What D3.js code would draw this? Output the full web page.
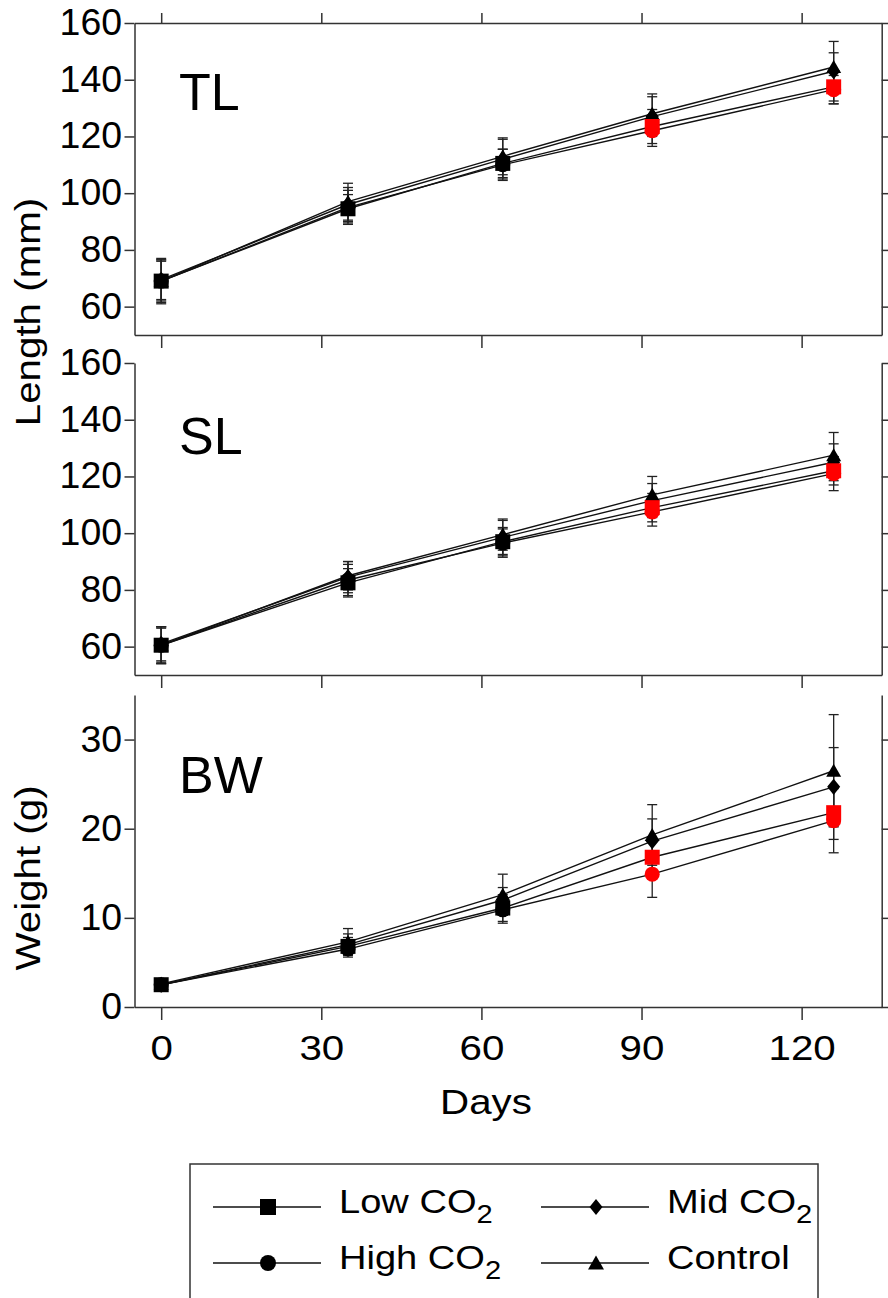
<!DOCTYPE html>
<html>
<head>
<meta charset="utf-8">
<script src="https://cdn.jsdelivr.net/npm/d3@7"></script>
<style>
body { margin: 0; background: #fff; }
svg { display: block; font-family: "Liberation Sans", Arial, sans-serif; }
</style>
</head>
<body>
<svg id="chart" width="888" height="1298"></svg>
<script>
// sampling days
const days = [0, 35, 64, 92, 126];
const dayTicks = [0, 30, 60, 90, 120];

// total length (mm)
const tlLow     = [69.0, 94.5, 110.5, 123.5, 137.5];
const tlHigh    = [69.0, 95.0, 110.0, 122.0, 136.5];
const tlMid     = [69.5, 96.0, 112.0, 127.0, 143.0];
const tlControl = [69.0, 97.0, 113.0, 128.0, 144.5];
const tlLowSd     = [7.0, 5.0, 5.0, 6.0, 6.0];
const tlHighSd    = [7.5, 6.0, 5.5, 5.5, 5.0];
const tlMidSd     = [7.0, 6.0, 7.0, 7.0, 10.5];
const tlControlSd = [8.0, 6.5, 6.5, 7.0, 5.0];

// standard length (mm)
const slLow     = [60.5, 82.5, 97.0, 109.0, 122.0];
const slHigh    = [60.5, 83.5, 96.5, 107.5, 121.0];
const slMid     = [61.0, 84.5, 98.5, 111.5, 125.0];
const slControl = [60.5, 85.0, 99.5, 113.5, 127.5];
const slLowSd     = [6.0, 5.0, 5.0, 5.0, 5.0];
const slHighSd    = [6.5, 5.5, 5.0, 5.0, 6.0];
const slMidSd     = [6.0, 5.5, 6.0, 6.0, 6.5];
const slControlSd = [6.5, 5.0, 5.5, 6.5, 8.0];

// body weight (g)
const bwLow     = [2.5, 6.8, 11.1, 16.8, 21.8];
const bwHigh    = [2.5, 6.5, 10.9, 14.9, 20.9];
const bwMid     = [2.5, 7.0, 12.0, 18.6, 24.7];
const bwControl = [2.6, 7.3, 12.6, 19.3, 26.5];
const bwLowSd     = [0.5, 1.0, 1.5, 2.0, 3.0];
const bwHighSd    = [0.5, 0.9, 1.5, 2.6, 3.6];
const bwMidSd     = [0.5, 1.2, 1.4, 2.5, 4.4];
const bwControlSd = [0.5, 1.5, 2.3, 3.4, 6.3];

// points that differ from control (drawn red)
const sigLow  = [false, false, false, true, true];
const sigHigh = [false, false, false, true, true];

const lengthTicks = [60, 80, 100, 120, 140, 160];
const weightTicks = [0, 10, 20, 30];

const svg = d3.select("#chart");
const axisColor = "#333";
const txtStretch = 1.12;

let x = d3.scaleLinear().domain([-5, 135]).range([134.5, 881.7]);

// marker shapes, size = width in px
const symSquare = { draw(c, s){ let h = s/2; c.moveTo(-h,-h); c.lineTo(h,-h); c.lineTo(h,h); c.lineTo(-h,h); c.closePath(); } };
const symCircle = { draw(c, s){ let r = s/2; c.moveTo(r,0); c.arc(0,0,r,0,2*Math.PI); } };
const symDiamond = { draw(c, s){ let w = s/2, h = s*0.62; c.moveTo(0,-h); c.lineTo(w,0); c.lineTo(0,h); c.lineTo(-w,0); c.closePath(); } };
const symTriangle = { draw(c, s){ let w = s/2; c.moveTo(0,-s*0.47); c.lineTo(w,s*0.4); c.lineTo(-w,s*0.4); c.closePath(); } };

// draw order: control, mid, high, low
function makeSeries(ctrl, ctrlSd, mid, midSd, high, highSd, low, lowSd){
    return [
        {name: "Control", mean: ctrl, sd: ctrlSd, shape: symTriangle, size: 15, sig: null},
        {name: "Mid", mean: mid, sd: midSd, shape: symDiamond, size: 13, sig: null},
        {name: "High", mean: high, sd: highSd, shape: symCircle, size: 15, sig: sigHigh},
        {name: "Low", mean: low, sd: lowSd, shape: symSquare, size: 15, sig: sigLow}
    ];
}

let panels = [
    {label: "TL", top: 23, bottom: 335, labelY: 110, domain: [50, 160], ticks: lengthTicks, topAxis: true, xLabels: false,
     series: makeSeries(tlControl, tlControlSd, tlMid, tlMidSd, tlHigh, tlHighSd, tlLow, tlLowSd)},
    {label: "SL", top: 363, bottom: 675, labelY: 454, domain: [50, 160], ticks: lengthTicks, topAxis: false, xLabels: false,
     series: makeSeries(slControl, slControlSd, slMid, slMidSd, slHigh, slHighSd, slLow, slLowSd)},
    {label: "BW", top: 695, bottom: 1007, labelY: 793, domain: [0, 35], ticks: weightTicks, topAxis: false, xLabels: true,
     series: makeSeries(bwControl, bwControlSd, bwMid, bwMidSd, bwHigh, bwHighSd, bwLow, bwLowSd)}
];

function styleAxis(g, stretch){
    g.selectAll("path.domain").attr("stroke", axisColor).attr("stroke-width", 1.5);
    g.selectAll(".tick line").attr("stroke", axisColor).attr("stroke-width", 1.5);
    g.selectAll(".tick text").attr("fill", "#000").attr("font-size", 36)
        .attr("font-family", "Liberation Sans, Arial, sans-serif")
        .attr("transform", "scale(" + (stretch || txtStretch) + ",1)");
}

for(let p of panels){
    let y = d3.scaleLinear().domain(p.domain).range([p.bottom, p.top]);
    let g = svg.append("g").attr("class", "panel");

    g.append("g").attr("transform", "translate(" + x.range()[0] + ",0)")
        .call(d3.axisLeft(y).tickValues(p.ticks).tickSize(10).tickSizeOuter(0).tickPadding(2))
        .call(styleAxis, 1.04);
    g.append("g").attr("transform", "translate(" + x.range()[1] + ",0)")
        .call(d3.axisRight(y).tickValues(p.ticks).tickSize(10).tickSizeOuter(0).tickFormat(""))
        .call(styleAxis);
    g.append("g").attr("transform", "translate(0," + p.bottom + ")")
        .call(d3.axisBottom(x).tickValues(dayTicks).tickSize(13).tickSizeOuter(0).tickPadding(14)
            .tickFormat(p.xLabels ? d3.format("d") : ""))
        .call(styleAxis);
    if(p.topAxis){
        g.append("g").attr("transform", "translate(0," + p.top + ")")
            .call(d3.axisTop(x).tickValues(dayTicks).tickSize(10).tickSizeOuter(0).tickFormat(""))
            .call(styleAxis);
    }

    g.append("text")
        .attr("x", 179).attr("y", p.labelY)
        .attr("font-size", 52)
        .text(p.label);

    let line = d3.line().x((d, i) => x(days[i])).y(d => y(d));

    // lines
    g.selectAll("path.series")
        .data(p.series)
        .enter().append("path")
        .attr("class", "series")
        .attr("d", s => line(s.mean))
        .attr("fill", "none")
        .attr("stroke", "#111")
        .attr("stroke-width", 1.4);

    // error bars
    for(let s of p.series){
        let eb = g.append("g").attr("class", "errbar");
        s.mean.forEach((m, i) => {
            let cx = x(days[i]);
            let y0 = y(m - s.sd[i]), y1 = y(m + s.sd[i]);
            eb.append("line").attr("x1", cx).attr("x2", cx).attr("y1", y0).attr("y2", y1);
            eb.append("line").attr("x1", cx - 5).attr("x2", cx + 5).attr("y1", y0).attr("y2", y0);
            eb.append("line").attr("x1", cx - 5).attr("x2", cx + 5).attr("y1", y1).attr("y2", y1);
        });
        eb.selectAll("line").attr("stroke", "#222").attr("stroke-width", 1.3);
    }

    // markers, black first then red on top
    for(let pass of [false, true]){
        for(let s of p.series){
            let pts = s.mean.map((m, i) => ({m: m, i: i, red: s.sig ? s.sig[i] : false}))
                .filter(d => d.red === pass);
            g.selectAll(null)
                .data(pts)
                .enter().append("path")
                .attr("transform", d => "translate(" + x(days[d.i]) + "," + y(d.m) + ")")
                .attr("d", d3.symbol().type(s.shape).size(s.size))
                .attr("fill", d => d.red ? "#ff0000" : "#000");
        }
    }
}

// axis titles
svg.append("text")
    .attr("transform", "translate(40,312) rotate(-90) scale(" + txtStretch + ",1)")
    .attr("text-anchor", "middle").attr("font-size", 36)
    .text("Length (mm)");
svg.append("text")
    .attr("transform", "translate(40,878) rotate(-90) scale(" + txtStretch + ",1)")
    .attr("text-anchor", "middle").attr("font-size", 36)
    .text("Weight (g)");
svg.append("text")
    .attr("transform", "translate(486,1114) scale(" + txtStretch + ",1)")
    .attr("text-anchor", "middle").attr("font-size", 36)
    .text("Days");

// legend
let legendItems = [
    {label: "Low CO", sub: "2", shape: symSquare, size: 16, col: 0, row: 0},
    {label: "Mid CO", sub: "2", shape: symDiamond, size: 13, col: 1, row: 0},
    {label: "High CO", sub: "2", shape: symCircle, size: 16, col: 0, row: 1},
    {label: "Control", sub: "", shape: symTriangle, size: 16, col: 1, row: 1}
];
let legend = svg.append("g").attr("class", "legend");
legend.append("rect")
    .attr("x", 190).attr("y", 1164).attr("width", 628).attr("height", 150)
    .attr("fill", "none").attr("stroke", axisColor).attr("stroke-width", 1.5);

let colX = [213, 541], rowY = [1207, 1263];
for(let it of legendItems){
    let lx = colX[it.col], ly = rowY[it.row];
    let li = legend.append("g").attr("transform", "translate(" + lx + "," + ly + ")");
    li.append("line").attr("x1", 0).attr("x2", 108).attr("y1", 0).attr("y2", 0)
        .attr("stroke", "#111").attr("stroke-width", 1.4);
    li.append("path").attr("transform", "translate(55,0)")
        .attr("d", d3.symbol().type(it.shape).size(it.size)).attr("fill", "#000");
    let t = li.append("text")
        .attr("transform", "translate(126,6) scale(" + txtStretch + ",1)")
        .attr("font-size", 34)
        .text(it.label);
    if(it.sub){
        t.append("tspan").attr("font-size", 26).attr("dy", 10).text(it.sub);
    }
}
</script>
</body>
</html>
